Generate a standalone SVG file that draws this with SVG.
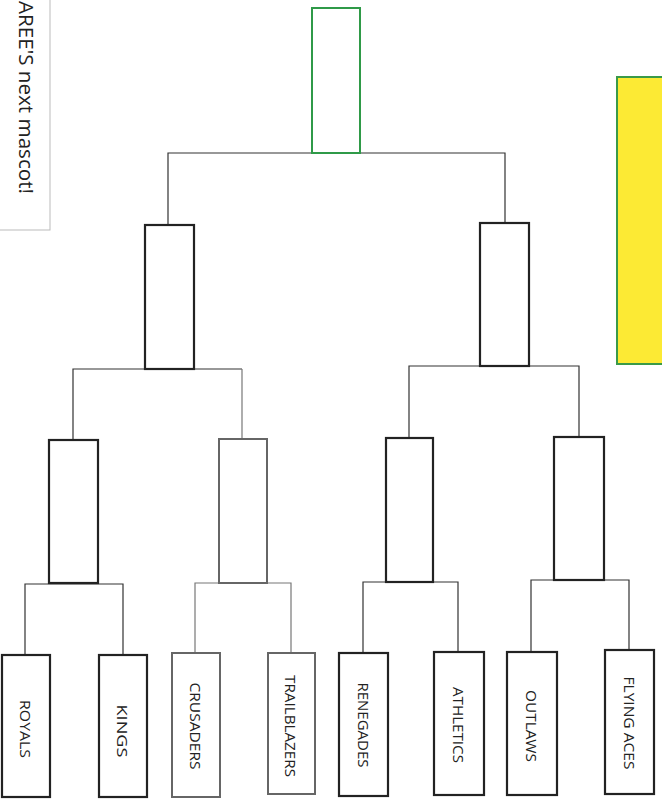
<svg xmlns="http://www.w3.org/2000/svg" width="662" height="803" viewBox="0 0 662 803">
<style>
.box{fill:#fff;stroke:#222;stroke-width:2.2}
.gbox{fill:#fff;stroke:#666;stroke-width:2}
.win{fill:#fff;stroke:#2f9a48;stroke-width:2}
.con{fill:none;stroke:#333;stroke-width:1.2}
.gcon{fill:none;stroke:#777;stroke-width:1.2}
.lbl{font-family:"Open Sans","Liberation Sans",sans-serif;font-size:15px;fill:#222}
.note{font-family:"Open Sans","Liberation Sans",sans-serif;font-size:20px;fill:#222}
</style>
<rect width="662" height="803" fill="#fff"/>
<g id="note-left">
<rect x="-10" y="-10" width="60" height="240" fill="#fff" stroke="#bbb" stroke-width="1"/>
<text class="note" transform="translate(19,1) rotate(90)" textLength="193" lengthAdjust="spacingAndGlyphs">AREE'S next mascot!</text>
</g>
<g id="note-right">
<rect x="617" y="77" width="60" height="287" fill="#fcea34" stroke="#3a9a48" stroke-width="2"/>
</g>
<g id="connectors">
<path class="con" d="M168,225 V153 H505 V223"/>
<path class="con" d="M73,440 V369 H242"/>
<path class="gcon" d="M242,369 V439"/>
<path class="con" d="M409,438 V366 H579 V437"/>
<path class="con" d="M25,655 V584 H123 V655"/>
<path class="gcon" d="M195,653 V583 H291 V653"/>
<path class="con" d="M363,653 V582 H458 V652"/>
<path class="con" d="M531,652 V580 H629 V650"/>
</g>
<g id="final"><rect class="win" x="312" y="8" width="48" height="145"/></g>
<g id="semi-left"><rect class="box" x="145" y="225" width="49" height="144"/></g>
<g id="semi-right"><rect class="box" x="480" y="223" width="49" height="143"/></g>
<g id="qf-1"><rect class="box" x="49" y="440" width="49" height="143"/></g>
<g id="qf-2"><rect class="gbox" x="219" y="439" width="48" height="144"/></g>
<g id="qf-3"><rect class="box" x="386" y="438" width="47" height="144"/></g>
<g id="qf-4"><rect class="box" x="554" y="437" width="50" height="143"/></g>
<g id="royals"><rect class="box" x="2" y="655" width="48" height="142"/>
<text class="lbl" transform="translate(26,729) rotate(90)" text-anchor="middle" dominant-baseline="central" textLength="58" lengthAdjust="spacingAndGlyphs">ROYALS</text></g>
<g id="kings"><rect class="box" x="99" y="655" width="48" height="142"/>
<text class="lbl" transform="translate(123,731) rotate(90)" text-anchor="middle" dominant-baseline="central" textLength="53" lengthAdjust="spacingAndGlyphs">KINGS</text></g>
<g id="crusaders"><rect class="gbox" x="172" y="653" width="48" height="144"/>
<text class="lbl" transform="translate(196,726) rotate(90)" text-anchor="middle" dominant-baseline="central" textLength="87" lengthAdjust="spacingAndGlyphs">CRUSADERS</text></g>
<g id="trailblazers"><rect class="gbox" x="268" y="653" width="47" height="141"/>
<text class="lbl" transform="translate(291,726) rotate(90)" text-anchor="middle" dominant-baseline="central" textLength="102" lengthAdjust="spacingAndGlyphs">TRAILBLAZERS</text></g>
<g id="renegades"><rect class="box" x="339" y="653" width="49" height="143"/>
<text class="lbl" transform="translate(364,725) rotate(90)" text-anchor="middle" dominant-baseline="central" textLength="85" lengthAdjust="spacingAndGlyphs">RENEGADES</text></g>
<g id="athletics"><rect class="box" x="434" y="652" width="50" height="143"/>
<text class="lbl" transform="translate(459,725) rotate(90)" text-anchor="middle" dominant-baseline="central" textLength="76" lengthAdjust="spacingAndGlyphs">ATHLETICS</text></g>
<g id="outlaws"><rect class="box" x="507" y="652" width="50" height="143"/>
<text class="lbl" transform="translate(532,726) rotate(90)" text-anchor="middle" dominant-baseline="central" textLength="72" lengthAdjust="spacingAndGlyphs">OUTLAWS</text></g>
<g id="flying-aces"><rect class="box" x="605" y="650" width="49" height="144"/>
<text class="lbl" transform="translate(630,723) rotate(90)" text-anchor="middle" dominant-baseline="central" textLength="93" lengthAdjust="spacingAndGlyphs">FLYING ACES</text></g>
</svg>
